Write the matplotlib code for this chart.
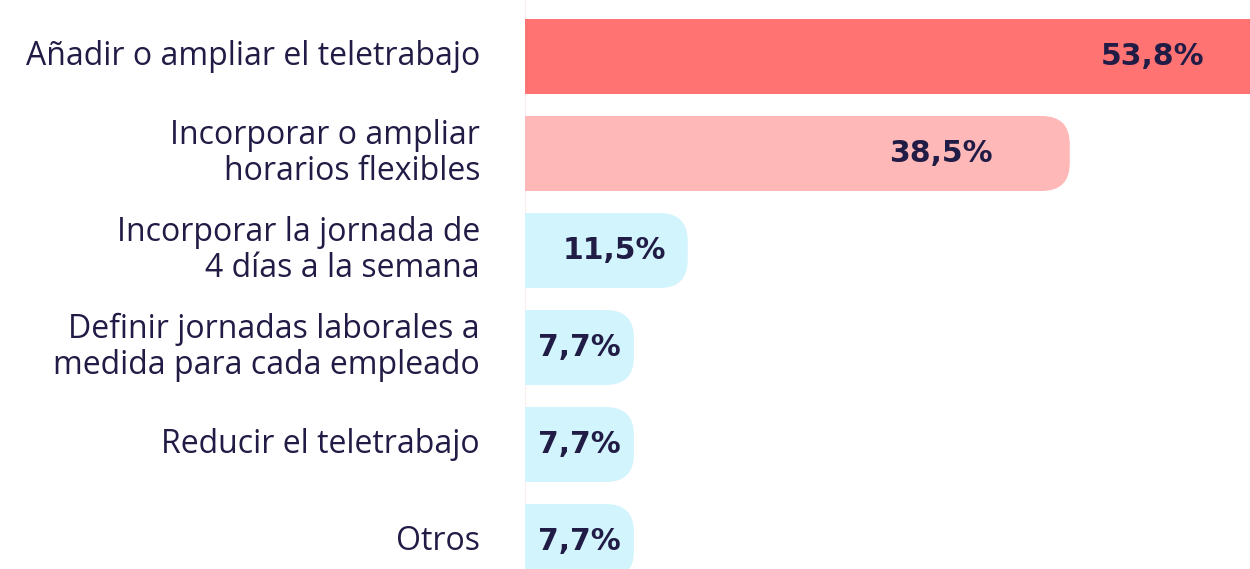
import matplotlib
matplotlib.use("Agg")
import matplotlib.pyplot as plt
from matplotlib.patches import FancyBboxPatch, Rectangle

categories = [
    "Añadir o ampliar el teletrabajo",
    "Incorporar o ampliar\nhorarios flexibles",
    "Incorporar la jornada de\n4 días a la semana",
    "Definir jornadas laborales a\nmedida para cada empleado",
    "Reducir el teletrabajo",
    "Otros",
]
values = [53.8, 38.5, 11.5, 7.7, 7.7, 7.7]
value_labels = ["53,8%", "38,5%", "11,5%", "7,7%", "7,7%", "7,7%"]

colors = ["#FF7373", "#FFB8B8", "#D2F4FC", "#D2F4FC", "#D2F4FC", "#D2F4FC"]
text_color = "#211C45"
label_offsets_px = [82, 77, 22, 13, 13, 13]

W, H = 1250, 569
fig = plt.figure(figsize=(W / 100, H / 100), dpi=100)
ax_left = 525
ax = fig.add_axes([ax_left / W, 0, (W - ax_left) / W, 1])
px_per_unit_x = 14.15
xmax = (W - ax_left) / px_per_unit_x
ax.set_xlim(0, xmax)
row_px = 97
first_center = 56.5
ax.set_ylim((H - first_center) / row_px, -first_center / row_px)
ax.axis("off")

bar_h = 75 / row_px
r_px = 28
r_x = r_px / px_per_unit_x
aspect = (r_px / row_px) / r_x

for i, (v, c) in enumerate(zip(values, colors)):
    y0 = i - bar_h / 2
    ax.add_patch(Rectangle((0, y0), max(v - r_x, 0), bar_h, facecolor=c,
                           edgecolor="none", clip_on=True))
    ax.add_patch(FancyBboxPatch((0, y0), v, bar_h,
                                boxstyle=f"round,pad=0,rounding_size={r_x}",
                                mutation_aspect=aspect, facecolor=c,
                                edgecolor="none", clip_on=True))
    xt = v - label_offsets_px[i] / px_per_unit_x
    ax.text(xt, i, value_labels[i], ha="right", va="center",
            fontsize=21.5, fontweight="bold", color=text_color,
            family=["DejaVu Sans"])

for i, cat in enumerate(categories):
    ax.text(-45 / px_per_unit_x, i, cat, ha="right", va="center",
            fontsize=23, fontweight="normal", color=text_color,
            family=["Open Sans", "DejaVu Sans"], linespacing=1.15, clip_on=False)

ax.axvline(0, color="#FBEDEE", lw=1, zorder=0.5)

fig.savefig("out.png", dpi=100)
